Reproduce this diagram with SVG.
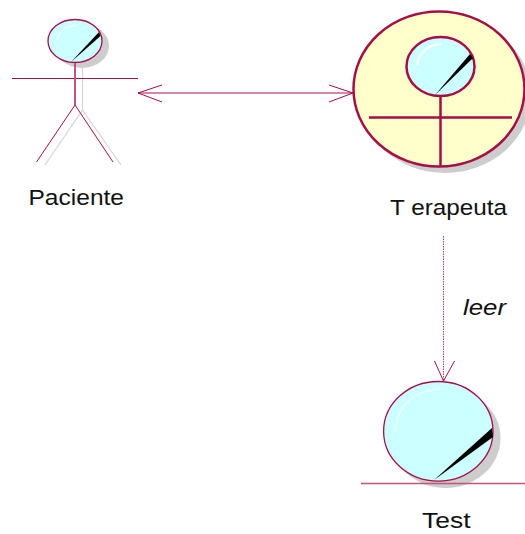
<svg xmlns="http://www.w3.org/2000/svg" width="525" height="534" viewBox="0 0 525 534">
<style>
.ln{stroke:#a50f46;fill:none;stroke-width:1}
.bd{fill:#ccffff;stroke:#a50f46;stroke-width:1.3}
.sh{fill:#cdcdcd;stroke:none}
.sl{stroke:#d4d4d4;fill:none;stroke-width:1.2}
.hl{stroke:#fff;fill:none;stroke-width:1}
text{font-family:"Liberation Sans",Arial,sans-serif;font-size:22.500px;fill:#111}
</style>
<rect width="525" height="534" fill="#fff"/>
<g id="connectors">
<path d="M138 93H353" stroke="#c8608a" stroke-width="1.600" fill="none"/>
<path class="ln" d="M162 85L138 93L162 102M329 85L353 93L329 102"/>
<path d="M443.500 236V381" stroke="#b8406c" stroke-width="1" stroke-dasharray="1.500 1" fill="none"/>
<path class="ln" d="M434.500 361L443.500 381L454.500 361"/>
<text x="463" y="315" font-style="italic" textLength="43" lengthAdjust="spacingAndGlyphs">leer</text>
</g>
<g id="paciente">
<path class="sl" d="M82.500 67V110M45 165L82.500 110L121 165"/>
<ellipse class="sh" cx="82" cy="46" rx="27" ry="22"/>
<ellipse class="bd" cx="75" cy="41" rx="27" ry="21.500"/>
<path d="M71 62L99 32L100.500 36Z" fill="#000"/>
<path class="hl" d="M57 40Q60 27 76 25"/>
<path class="ln" d="M12 78.500H138M36.500 162L75 105L113 162"/>
<path d="M75 63V105" stroke="#c0567e" stroke-width="2" fill="none"/>
<text x="28.500" y="205" textLength="95.500" lengthAdjust="spacingAndGlyphs">Paciente</text>
</g>
<g id="terapeuta">
<ellipse class="sh" cx="445" cy="95" rx="86" ry="78"/>
<ellipse cx="439" cy="89" rx="85.500" ry="77.500" fill="#ffffcc" stroke="#a50f46" stroke-width="2.500"/>
<ellipse cx="440.500" cy="66.500" rx="34" ry="29.500" fill="#ccffff" stroke="#a50f46" stroke-width="2.500"/>
<path d="M435 95L470 54L473 58Z" fill="#000"/>
<path d="M417 65Q420 46 441 44" stroke="#fff" stroke-width="2" fill="none"/>
<path d="M440.500 96V166M369 117.500H512" stroke="#a50f46" stroke-width="2.500" fill="none"/>
<text x="390" y="215" textLength="117" lengthAdjust="spacingAndGlyphs">T erapeuta</text>
</g>
<g id="test">
<ellipse class="sh" cx="445.500" cy="438" rx="55" ry="50"/>
<ellipse class="bd" cx="438.300" cy="431.300" rx="54.700" ry="49.800"/>
<path d="M434 480L492 428L493 437Z" fill="#000"/>
<path class="hl" d="M395 431Q399 392 440 389"/>
<path d="M361 483.500H525" stroke="#c0567e" stroke-width="1.300" fill="none"/>
<text x="422" y="527.500" textLength="48.500" lengthAdjust="spacingAndGlyphs">Test</text>
</g>
</svg>
